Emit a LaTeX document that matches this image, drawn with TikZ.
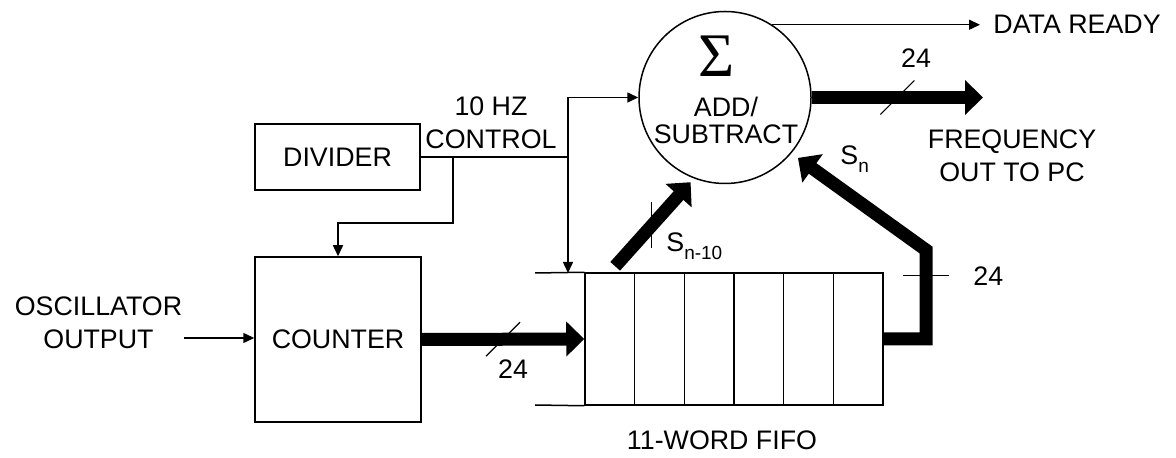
\documentclass[tikz,border=0pt]{standalone}
\usepackage{fontspec}
\setmainfont{Liberation Sans}
\newfontfamily\sigmafont{Liberation Serif}
\usepackage{tikz}
\usetikzlibrary{arrows.meta, positioning, calc}

\tikzset{
  lbl/.style={inner sep=0pt, font=\fontsize{13.4}{16.5}\selectfont, align=center},
  blockbox/.style={draw, line width=0.75pt, lbl},
  cell/.style={draw, line width=0.75pt, minimum width=24.835pt, minimum height=66pt, inner sep=0pt},
  wire/.style={line width=0.75pt},
  wirearrow/.style={wire, -{Triangle[width=5pt,length=5.5pt]}},
  bus/.style={line width=6.5pt, line join=miter, -{Triangle[width=17pt,length=9pt]}},
  slash/.style={line width=0.6pt},
}
\newcommand{\lowsub}[1]{\raisebox{-4pt}{\fontsize{9.5}{10}\selectfont #1}}

\begin{document}
\begin{tikzpicture}[x=0.5pt, y=-0.5pt]
  \useasboundingbox (0,0) rectangle (1176,458);
  % Blocks
  \node[blockbox, minimum width=82.5pt, minimum height=33pt] (divider) at (337.5,157) {DIVIDER};
  \node[blockbox, minimum width=83pt, minimum height=82.5pt] (counter) at (338,339.5) {COUNTER};
  \node[circle, draw, wire, minimum size=86pt, inner sep=0pt] (sum) at (725,97.5) {};
  \node[inner sep=0pt] (sigma) at (717,56) {\sigmafont\fontsize{31}{31}\selectfont Σ};
  \node[lbl] (addsub) at (726,120) {ADD/\\[-3pt]SUBTRACT};
  % FIFO cells
  \foreach \i in {1,...,6}
    \node[cell] (cell\i) at ({585+49.67*(\i-0.5)},339) {};
  \coordinate (fifotop) at (535,273);
  \coordinate (fifobot) at (535,405);
  \draw[wire] (fifotop) -- (cell1.north west);
  \draw[wire] (fifobot) -- (cell1.south west);
  \node[lbl] (fifolbl) at (722,440) {11-WORD FIFO};
  % Labels
  \node[lbl] (osc) at (98.5,322.5) {OSCILLATOR\\OUTPUT};
  \node[lbl] (ctltxt) at (491,123) {10 HZ\\CONTROL};
  \node[lbl, anchor=west] (ready) at (993,24) {DATA READY};
  \node[lbl] (freqtxt) at (1012,156) {FREQUENCY\\OUT TO PC};
  \node[lbl] (widthA) at (513,369) {24};
  \node[lbl] (widthB) at (916,58) {24};
  \node[lbl, anchor=west] (widthC) at (973,276) {24};
  \node[lbl, anchor=base west] (snold) at (666,252) {S\lowsub{n-10}};
  \node[lbl, anchor=base west] (snnew) at (840,165) {S\lowsub{n}};
  % Control lines
  \coordinate (ctl) at (568,157);
  \coordinate (brk) at (453,157);
  \coordinate (brklow) at (453,223);
  \draw[wire] (divider.east) -- (ctl);
  \draw[wirearrow] (ctl) |- (sum.west);
  \draw[wirearrow] (ctl) -- (ctl |- fifotop);
  \draw[wirearrow] (brk) -- (brklow) -| (counter.north);
  \coordinate (oscin) at (184,338);
  \draw[wirearrow] (oscin) -- (oscin -| counter.west);
  \coordinate (readytip) at (980,25);
  \draw[wirearrow] (sum.57) -- (sum.57 -| readytip);
  % Data buses
  \draw[bus] (counter.east) -- (cell1.west);
  \draw[slash] ($(counter.east)!.5!(cell1.west)$) +(-17,17) -- +(17,-17);
  \coordinate (freqtip) at (983,97.5);
  \draw[bus] (sum.east) -- (freqtip);
  \draw[slash] ($(sum.east)!.5!(freqtip)$) +(-17,17) -- +(17,-17);
  \draw[bus, shorten <=4pt, shorten >=2.5pt] (cell1.north) -- (sum.-111);
  \draw[slash] ($(cell1.north)!.5!(sum.-111)$) +(0,-23) -- +(0,23);
  \coordinate (upA) at (926,339);
  \coordinate (upB) at (926,250);
  \draw[bus, shorten >=4pt] (cell6.east) -- (upA) -- (upB) -- (sum.-40);
  \draw[slash] ($(upA)!.71!(upB)$) +(-23,0) -- +(23,0);
\end{tikzpicture}
\end{document}
